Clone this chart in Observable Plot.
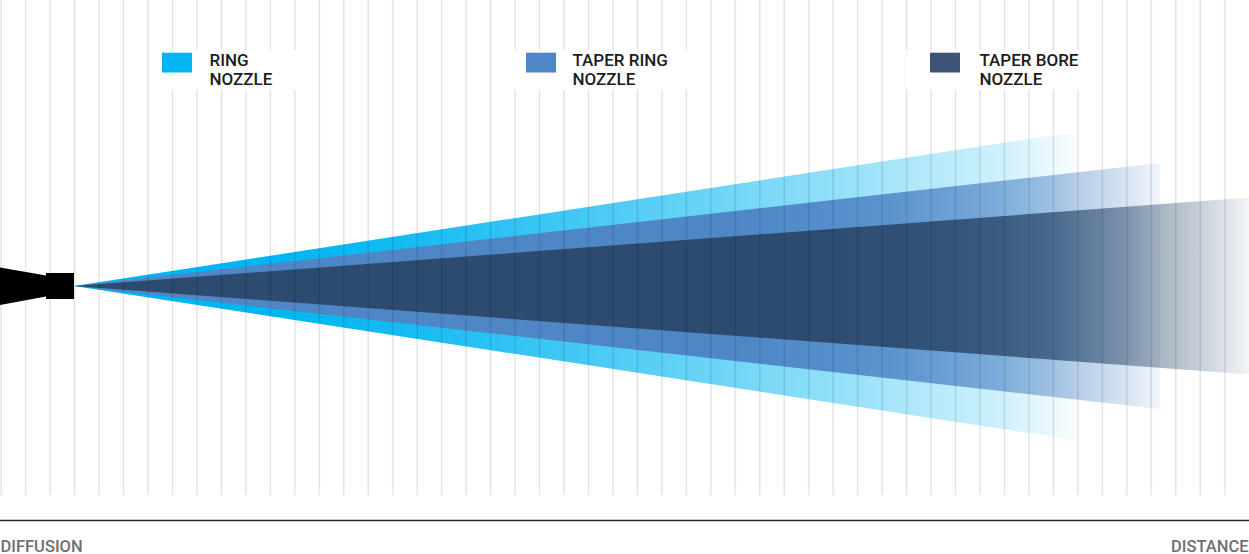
<!DOCTYPE html>
<html>
<head>
<meta charset="utf-8">
<script src="https://cdn.jsdelivr.net/npm/d3@7"></script>
<script src="https://cdn.jsdelivr.net/npm/@observablehq/plot@0.6"></script>
<style>
  html, body { margin: 0; padding: 0; background: #fff; }
  #chart svg { display: block; }
</style>
</head>
<body>
<div id="chart"></div>
<script>
// ---- data ----
const nozzleNames = ["RING\nNOZZLE", "TAPER RING\nNOZZLE", "TAPER BORE\nNOZZLE"];
const nozzleColors = ["#00b5f1", "#4f86c6", "#2c4b6e"];
const legendColors = ["#00b5f1", "#4f86c6", "#3c5576"];
// spray reach (distance from nozzle tip) and half-spread of each cone
const reach = [1000, 1086, 1175];
const halfSpread = [154, 123, 88.5];
// opacity fade along each spray (fraction of reach -> opacity)
const fadeStops = [
  [[0, 1], [0.2, 1], [0.33, 0.92], [0.5, 0.74], [0.73, 0.47], [0.93, 0.19], [1, 0.03]],
  [[0, 1], [0.6, 1], [0.75, 0.86], [0.85, 0.65], [0.94, 0.35], [1, 0.08]],
  [[0, 1], [0.62, 1], [0.75, 0.88], [0.83, 0.75], [0.88, 0.58], [0.94, 0.35], [1, 0.06]]
];
const axisLabels = ["DIFFUSION", "DISTANCE"];
// nozzle body outline
const nozzleCone = [{x: -74, y1: -19, y2: 18.5}, {x: -28, y1: -10.5, y2: 10.5}];
const nozzleTip = [{x1: -28, x2: 0, y1: -13, y2: 13}];

// ---- layout ----
const W = 1249, H = 554;
const apexPx = 74, axisPx = 286;
const gridStep = 24.47, gridStart = 0.7, gridCount = 51, gridBottomPx = 495;
const baselinePx = 520;
const legendSwatchPx = [162, 526, 930];
const legendTextPx = [209, 572, 979];
const legendBoxPx = [[152, 300], [506, 700], [906, 1100]];
const px2x = p => p - apexPx;
const px2y = p => axisPx - p;

const gridX = d3.range(gridCount).map(k => px2x(gridStart + k * gridStep));

const coneMarks = nozzleNames.map((n, i) => Plot.area(
  [{x: 0, y1: 0, y2: 0}, {x: reach[i], y1: -halfSpread[i], y2: halfSpread[i]}],
  {x1: "x", y1: "y1", y2: "y2", fill: `url(#fade${i})`}
));

const legend = nozzleNames.map((name, i) => ({
  name, color: legendColors[i],
  sx1: px2x(legendSwatchPx[i]), sx2: px2x(legendSwatchPx[i] + 30),
  tx: px2x(legendTextPx[i]),
  bx1: px2x(legendBoxPx[i][0]), bx2: px2x(legendBoxPx[i][1])
}));

const plot = Plot.plot({
  width: W, height: H,
  margin: 0,
  x: {domain: [-apexPx, W - apexPx], range: [0, W], axis: null},
  y: {domain: [-(H - axisPx), axisPx], range: [H, 0], axis: null},
  style: {fontFamily: "Roboto, 'Open Sans', sans-serif", background: "#fff", overflow: "visible"},
  marks: [
    ...coneMarks,
    Plot.area(nozzleCone, {x1: "x", y1: "y1", y2: "y2", fill: "#000"}),
    Plot.rect(nozzleTip, {x1: "x1", x2: "x2", y1: "y1", y2: "y2", fill: "#000"}),
    Plot.ruleX(gridX, {x: d => d, y1: px2y(gridBottomPx), y2: px2y(0), stroke: "#000", strokeOpacity: 0.1, strokeWidth: 1.6}),
    Plot.rect(legend, {x1: "bx1", x2: "bx2", y1: px2y(90), y2: px2y(50), fill: "#fff"}),
    Plot.rect(legend, {x1: "sx1", x2: "sx2", y1: px2y(72.5), y2: px2y(52.7), fill: "color"}),
    Plot.text(legend, {x: "tx", y: px2y(51.5), text: "name", textAnchor: "start", lineAnchor: "top",
      fontSize: 17, fontWeight: 500, lineHeight: 1.14, fill: "#1c1c1c"}),
    Plot.ruleY([px2y(baselinePx)], {x1: px2x(0), x2: px2x(W), stroke: "#2a2a2a", strokeWidth: 1.4}),
    Plot.text([axisLabels[0]], {x: px2x(0), y: px2y(539.5), text: d => d, textAnchor: "start", lineAnchor: "top",
      fontSize: 16.5, fontWeight: 500, fill: "#707070"}),
    Plot.text([axisLabels[1]], {x: px2x(1248), y: px2y(539.5), text: d => d, textAnchor: "end", lineAnchor: "top",
      fontSize: 16.5, fontWeight: 500, fill: "#707070"})
  ]
});

// gradient definitions for the fading sprays
const svg = d3.select(plot);
const defs = svg.insert("defs", ":first-child");
nozzleColors.forEach((c, i) => {
  const g = defs.append("linearGradient")
    .attr("id", `fade${i}`)
    .attr("gradientUnits", "objectBoundingBox")
    .attr("x1", 0).attr("x2", 1).attr("y1", 0).attr("y2", 0);
  fadeStops[i].forEach(([t, o]) => {
    g.append("stop").attr("offset", t).attr("stop-color", c).attr("stop-opacity", o);
  });
});

document.getElementById("chart").appendChild(plot);
</script>
</body>
</html>
